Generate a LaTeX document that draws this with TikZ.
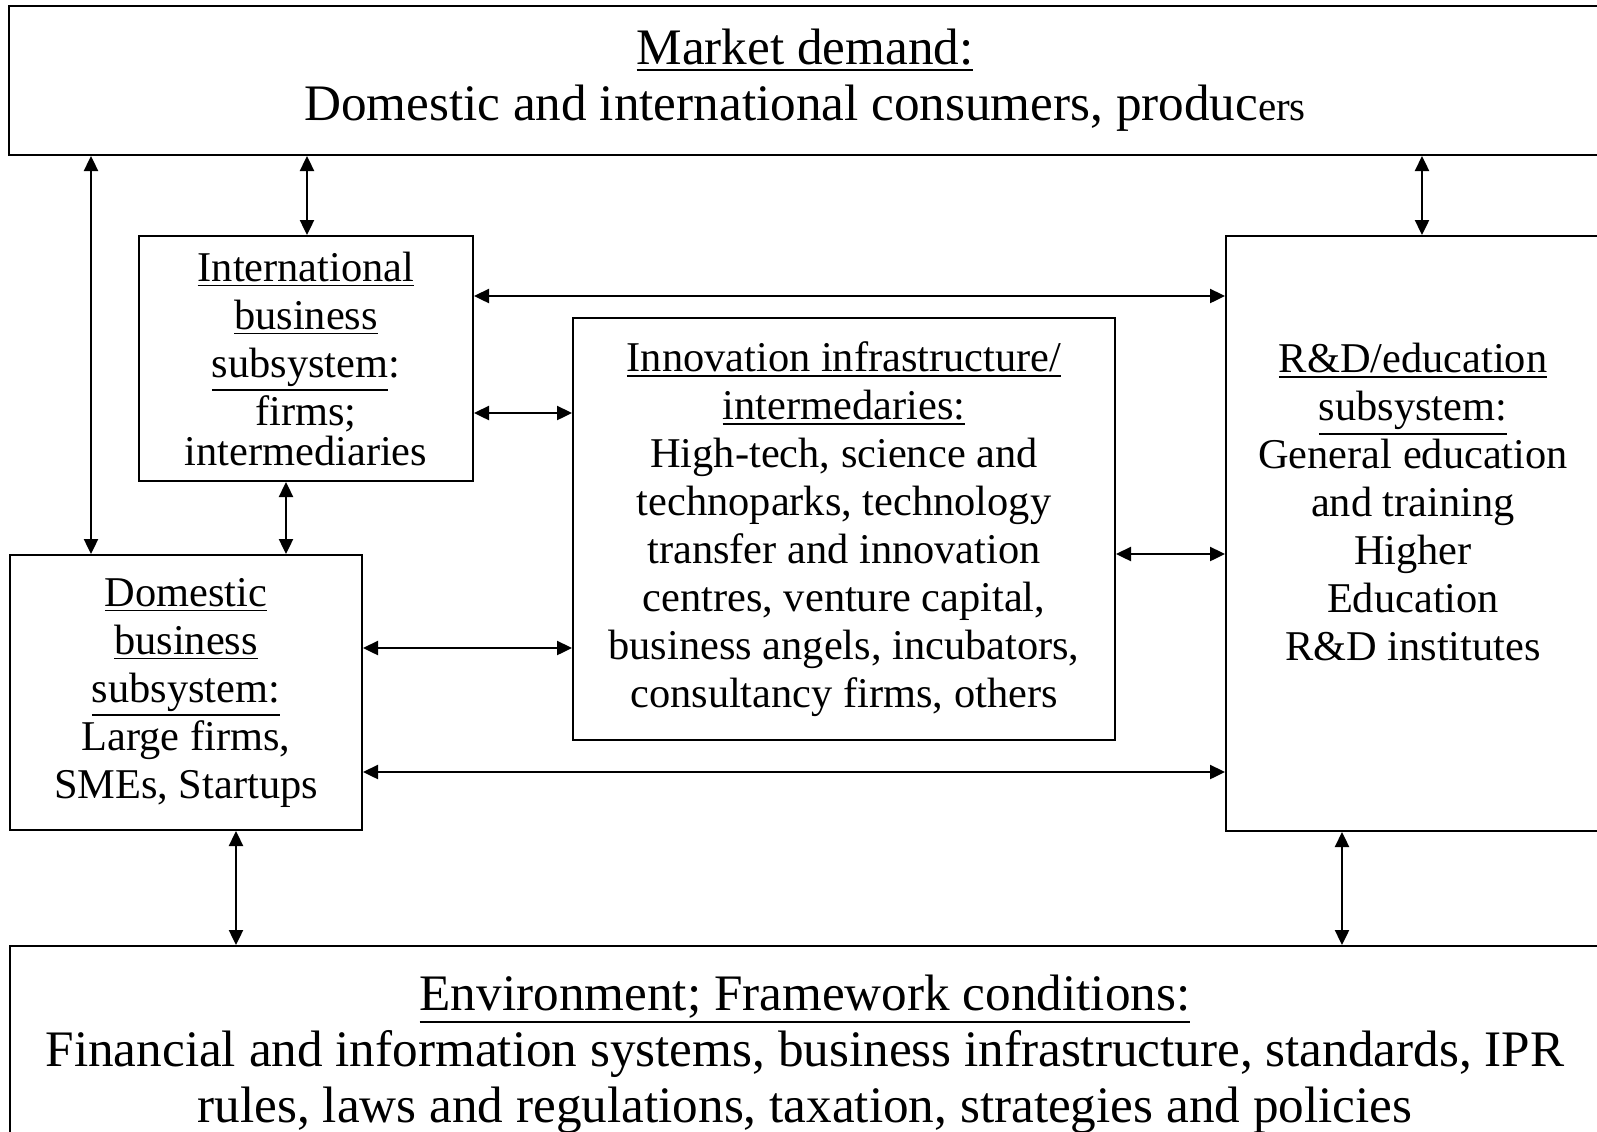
\documentclass[tikz,border=0pt]{standalone}
\usepackage{fontspec}
\setmainfont{Liberation Serif}
\usetikzlibrary{arrows.meta, positioning}
\newcommand{\undl}[1]{\leavevmode\vtop{\hbox{#1}\kern1.6pt\hrule height 0.9pt}}
\tikzstyle{box} = [draw, rectangle, line width=1pt, align=center, inner sep=0pt,
   font=\fontsize{21.2}{24}\selectfont]
\tikzstyle{bigBox} = [box, font=\fontsize{25.6}{28}\selectfont]
\tikzstyle{boxText} = [align=center, inner sep=0pt, font=\fontsize{21.2}{24}\selectfont]
\tikzstyle{biArrow} = [line width=1.2pt,
   {Triangle[length=7.5pt,width=7pt]}-{Triangle[length=7.5pt,width=7pt]}]

\begin{document}
\begin{tikzpicture}[x=0.5pt, y=-0.5pt]
	\useasboundingbox (0,0) rectangle (1597,1131);

	\node[bigBox, minimum width=796pt, minimum height=74.5pt] (market) at (805,80.5)
		{\undl{Market demand:}\\Domestic and international consumers, produc{\fontsize{20.5}{28}\selectfont ers}};
	\node[box, minimum width=167pt, minimum height=122.5pt] (intl) at (306,358.5)
		{\undl{International}\\\undl{business}\\\undl{subsystem}:\\firms;\\[-4pt]intermediaries};
	\node[box, minimum width=176pt, minimum height=137.5pt] (dom) at (186,692.5)
		{\undl{Domestic}\\\undl{business}\\\undl{subsystem:}\\Large firms,\\SMEs, Startups};
	\node[box, minimum width=271pt, minimum height=211pt] (innov) at (844,529)
		{\undl{Innovation infrastructure/}\\\undl{intermedaries:}\\High-tech, science and\\technoparks, technology\\transfer and innovation\\centres, venture capital,\\business angels, incubators,\\consultancy firms, others};
	\node[box, minimum width=187pt, minimum height=297.5pt] (rd) at (1413,533.5) {};
	\node[boxText, below=54pt of rd.north] (rdtext)
		{\undl{R\&D/education}\\\undl{subsystem:}\\General education\\and training\\Higher\\Education\\R\&D institutes};
	\node[bigBox, minimum width=795pt, minimum height=108pt] (env) at (805,1054)
		{\undl{Environment; Framework conditions:}\\Financial and information systems, business infrastructure, standards, IPR\\rules, laws and regulations, taxation, strategies and policies};

	% vertical arrows
	\draw[biArrow] (market.south -| 91,0) -- (dom.north -| 91,0);
	\draw[biArrow] (market.south -| 307,0) -- (intl.north -| 307,0);
	\draw[biArrow] (market.south -| 1422,0) -- (rd.north -| 1422,0);
	\draw[biArrow] (intl.south -| 286,0) -- (dom.north -| 286,0);
	\draw[biArrow] (dom.south -| 236,0) -- (env.north -| 236,0);
	\draw[biArrow] (rd.south -| 1342,0) -- (env.north -| 1342,0);

	% horizontal arrows
	\draw[biArrow] (intl.east |- 0,296) -- (rd.west |- 0,296);
	\draw[biArrow] (intl.east |- 0,413) -- (innov.west |- 0,413);
	\draw[biArrow] (innov.east |- 0,554) -- (rd.west |- 0,554);
	\draw[biArrow] (dom.east |- 0,648) -- (innov.west |- 0,648);
	\draw[biArrow] (dom.east |- 0,772) -- (rd.west |- 0,772);
\end{tikzpicture}
\end{document}
